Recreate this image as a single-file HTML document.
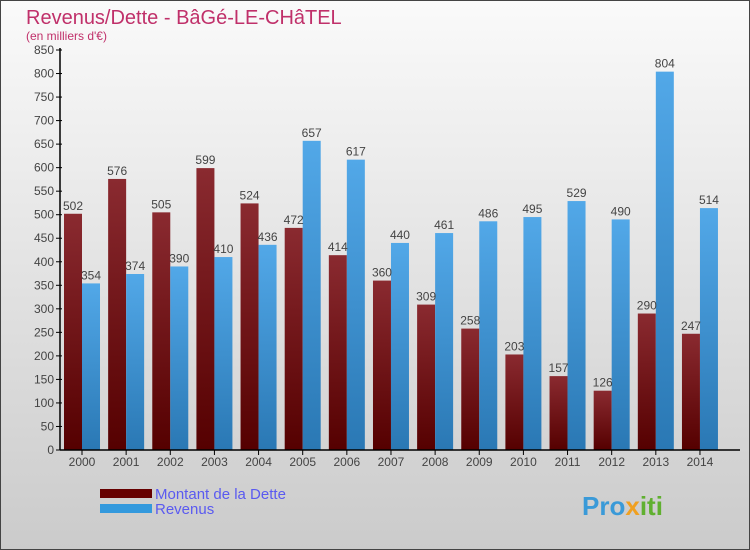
<!DOCTYPE html>
<html><head><meta charset="utf-8"><style>
body{margin:0}
svg{display:block;font-family:"Liberation Sans","DejaVu Sans",sans-serif}
</style></head><body>
<svg id="c" width="750" height="550" xmlns="http://www.w3.org/2000/svg">
<defs>
<linearGradient id="bg" x1="0" y1="0" x2="0" y2="1"><stop offset="0" stop-color="#fafafa"/><stop offset="1" stop-color="#cbcbcb"/></linearGradient>
<linearGradient id="gd" x1="0" y1="0" x2="0" y2="1"><stop offset="0" stop-color="#8a2a30"/><stop offset="1" stop-color="#550000"/></linearGradient>
<linearGradient id="gr" x1="0" y1="0" x2="0" y2="1"><stop offset="0" stop-color="#52a8e8"/><stop offset="1" stop-color="#2a78b4"/></linearGradient>
</defs>
<rect x="0.5" y="0.5" width="749" height="549" fill="url(#bg)" stroke="#444"/>
<text x="26" y="24" font-size="20" fill="#c0306a">Revenus/Dette - BâGé-LE-CHâTEL</text>
<text x="26" y="40" font-size="12" fill="#c0306a">(en milliers d'€)</text>
<g id="plot"></g>
<rect x="100" y="489" width="52" height="9" fill="#660000"/>
<text x="155" y="499" font-size="15" fill="#5a5af0">Montant de la Dette</text>
<rect x="100" y="504" width="52" height="9" fill="#3399dd"/>
<text x="155" y="514" font-size="15" fill="#5a5af0">Revenus</text>
<text x="582" y="515" font-size="26" font-weight="bold" fill="#3a9ad8">Pro<tspan fill="#f0a020">x</tspan><tspan fill="#60b030">iti</tspan></text>
</svg>
<script>
const years=["2000","2001","2002","2003","2004","2005","2006","2007","2008","2009","2010","2011","2012","2013","2014"];
const dette=[502,576,505,599,524,472,414,360,309,258,203,157,126,290,247];
const revenus=[354,374,390,410,436,657,617,440,461,486,495,529,490,804,514];
const ticks=[0,50,100,150,200,250,300,350,400,450,500,550,600,650,700,750,800,850];
const NS="http://www.w3.org/2000/svg";
const g=document.getElementById('plot');
const y=v=>450-v*400/850;
const x=i=>82+i*44.14;
function mk(t,a,txt){const e=document.createElementNS(NS,t);for(const k in a)e.setAttribute(k,a[k]);if(txt!==undefined)e.textContent=txt;g.appendChild(e);return e;}
ticks.forEach(t=>{
 const tk=mk('line',{x1:56,x2:62,y1:y(t),y2:y(t),stroke:'#000'});
 
 
 const tx=mk('text',{x:54,y:y(t)+4,'font-size':12,'text-anchor':'end',fill:'#444'},t);
 
 
});
years.forEach((yr,i)=>{
 const cx=x(i);
 const b1=mk('rect',{x:cx-18,y:y(dette[i]),width:18,height:450-y(dette[i]),fill:'url(#gd)'});
 
 
 const b2=mk('rect',{x:cx,y:y(revenus[i]),width:18,height:450-y(revenus[i]),fill:'url(#gr)'});
 
 
 const t1=mk('text',{x:cx-9,y:y(dette[i])-4,'font-size':12,'text-anchor':'middle',fill:'#444'},dette[i]);
 
 
 const t2=mk('text',{x:cx+9,y:y(revenus[i])-4,'font-size':12,'text-anchor':'middle',fill:'#444'},revenus[i]);
 
 
 const tk=mk('line',{x1:cx,x2:cx,y1:450,y2:455,stroke:'#000'});
 
 
 const xl=mk('text',{x:cx,y:466,'font-size':12,'text-anchor':'middle',fill:'#444'},yr);
 
 
});
const ax=mk('line',{x1:60,x2:60,y1:48,y2:450,stroke:'#000','stroke-width':1.5});


const bx=mk('line',{x1:60,x2:740,y1:450,y2:450,stroke:'#000','stroke-width':1.5});


</script>
</body></html>
